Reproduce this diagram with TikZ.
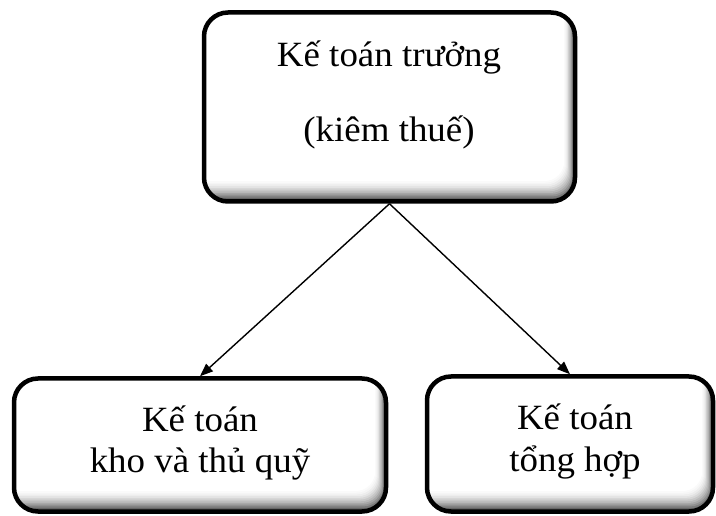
\documentclass[tikz,border=0pt]{standalone}
\usepackage{fontspec}
\setmainfont{Liberation Serif}[FakeStretch=1.04]
\usetikzlibrary{arrows.meta}

\tikzset{
  x=1pt, y=1pt,
  % rounded box with a soft inner shadow along the lower and right edges
  orgbox/.style={
    draw, line width=4.5pt, rounded corners=24pt, rectangle, inner sep=0pt,
    fill=white,
    path picture={
      \foreach \d/\c in {1/62,2/52,3/43,4/35,5/28,6/22,7/16,8/11,9/7,10/4,11/2,12/0}{
        \fill[black!\c, rounded corners=20pt]
          ([xshift=-40pt,yshift=40pt]path picture bounding box.north west)
          rectangle ([xshift=-0.9*\d pt,yshift=1.7*\d pt]path picture bounding box.south east);
      }
    }
  },
  lbl/.style={anchor=base, inner sep=0pt, font=\fontsize{35.5}{40}\selectfont},
  arr/.style={line width=1.4pt, -{Triangle[length=13pt,width=10pt]}},
}

\begin{document}
\begin{tikzpicture}
  \useasboundingbox (0,0) rectangle (716,515);

  % boxes
  \node[orgbox, minimum width=371pt, minimum height=189pt] (top)   at (389.5,408) {};
  \node[orgbox, minimum width=372pt, minimum height=133pt] (kho)   at (200,70) {};
  \node[orgbox, minimum width=286pt, minimum height=135pt] (tonghop) at (570,71) {};

  % labels
  \node[lbl] (topA) at (389,448) {Kế toán trưởng};
  \node[lbl] (topB) at (389,373) {(kiêm thuế)};
  \node[lbl] (khoA) at (200,84) {Kế toán};
  \node[lbl] (khoB) at (200,42) {kho và thủ quỹ};
  \node[lbl] (thA)  at (575,85) {Kế toán};
  \node[lbl] (thB)  at (575,44) {tổng hợp};

  % connectors
  \draw[arr] (top.south) -- (kho.north);
  \draw[arr] (top.south) -- (tonghop.north);
\end{tikzpicture}
\end{document}
